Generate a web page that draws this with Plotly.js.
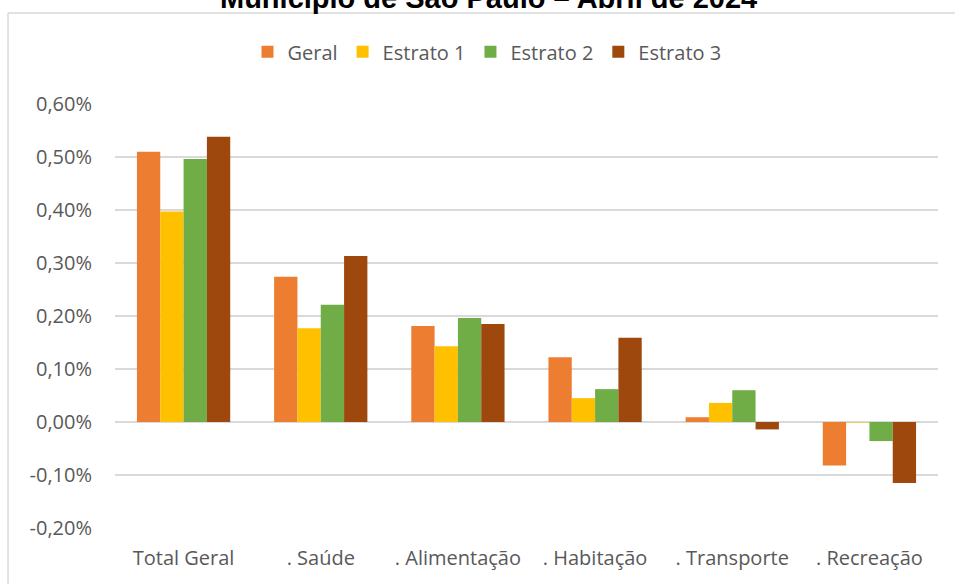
<!DOCTYPE html>
<html>
<head>
<meta charset="utf-8">
<script src="https://cdn.plot.ly/plotly-3.0.1.min.js"></script>
<style>html,body{margin:0;padding:0;background:#fff;}#chart{width:955px;height:584px;}</style>
</head>
<body>
<div id="chart"></div>
<script>
const categories = ["Total Geral", ". Saúde", ". Alimentação", ". Habitação", ". Transporte", ". Recreação"];
const seriesNames = ["Geral", "Estrato 1", "Estrato 2", "Estrato 3"];
const geral    = [0.510, 0.274, 0.181, 0.122, 0.009, -0.082];
const estrato1 = [0.397, 0.177, 0.143, 0.045, 0.036, -0.001];
const estrato2 = [0.496, 0.221, 0.196, 0.062, 0.060, -0.036];
const estrato3 = [0.538, 0.313, 0.185, 0.159, -0.014, -0.115];
const colors = ["#ED7D31", "#FFC000", "#70AD47", "#9E480E"];
const tickVals = [-0.2, -0.1, 0, 0.1, 0.2, 0.3, 0.4, 0.5, 0.6];
const tickText = ["-0,20%", "-0,10%", "0,00%", "0,10%", "0,20%", "0,30%", "0,40%", "0,50%", "0,60%"];
const titleText = "Município de São Paulo – Abril de 2024";

const allSeries = [geral, estrato1, estrato2, estrato3];
const traces = allSeries.map((vals, i) => ({
  type: "bar",
  name: seriesNames[i],
  x: categories,
  y: vals,
  marker: {color: colors[i], line: {width: 0}},
  hoverinfo: "none"
}));

const font = "'Open Sans', sans-serif";
const layout = {
  width: 955, height: 584,
  margin: {l: 115, r: 17, t: 104, b: 56},
  paper_bgcolor: "#fff", plot_bgcolor: "#fff",
  separators: ",.",
  barmode: "group",
  bargap: 0.32,
  bargroupgap: 0,
  showlegend: true,
  legend: {
    orientation: "h", x: 0.452, xanchor: "center", y: 1.123, yanchor: "middle",
    font: {family: font, size: 20, color: "#595959"},
    itemwidth: 30, traceorder: "normal"
  },
  xaxis: {
    showgrid: false, zeroline: false, showline: false, ticks: "",
    tickfont: {family: font, size: 20, color: "#595959"},
    ticklabelstandoff: 16
  },
  yaxis: {
    range: [-0.2, 0.6], tickmode: "array", tickvals: tickVals, ticktext: tickText,
    showgrid: true, gridcolor: "#d9d9d9", gridwidth: 1.5,
    zeroline: true, zerolinecolor: "#d9d9d9", zerolinewidth: 1.5,
    showline: false, ticks: "",
    tickfont: {family: font, size: 20, color: "#595959"},
    ticklabelstandoff: 22
  },
  annotations: [{
    text: "<b>" + titleText + "</b>",
    xref: "paper", yref: "paper", x: 0.4544, y: 1, xanchor: "center", yanchor: "bottom",
    yshift: 88, showarrow: false,
    font: {family: "'Liberation Sans', Arial, sans-serif", size: 29, color: "#000"}
  }],
  shapes: [
    {type: "line", xref: "paper", yref: "paper", x0: -0.130, x1: 1.05, y0: 1.2146, y1: 1.2146,
     line: {color: "#d9d9d9", width: 1.5}},
    {type: "line", xref: "paper", yref: "paper", x0: -0.130, x1: -0.130, y0: 1.2146, y1: -0.3,
     line: {color: "#d9d9d9", width: 1.5}}
  ]
};

Plotly.newPlot("chart", traces, layout, {displayModeBar: false, staticPlot: true});
</script>
</body>
</html>
